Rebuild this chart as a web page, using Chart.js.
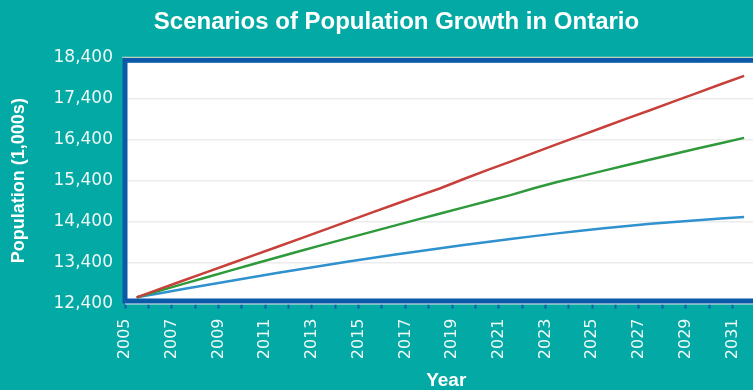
<!DOCTYPE html>
<html>
<head>
<meta charset="utf-8">
<title>Scenarios of Population Growth in Ontario</title>
<script src="https://cdn.jsdelivr.net/npm/chart.js@4.4.1/dist/chart.umd.min.js"></script>
<style>
    html, body { margin: 0; padding: 0; background: #03a9a4; overflow: hidden; }
    #wrap { width: 753px; height: 390px; overflow: hidden; }
    canvas { display: block; }
</style>
</head>
<body>
<div id="wrap"><canvas id="pop-chart" width="785" height="394"></canvas></div>
<script>
// mid-year points, 2005 to 2031
var midYears = [2005.5, 2006.5, 2007.5, 2008.5, 2009.5, 2010.5, 2011.5, 2012.5, 2013.5, 2014.5,
    2015.5, 2016.5, 2017.5, 2018.5, 2019.5, 2020.5, 2021.5, 2022.5, 2023.5, 2024.5,
    2025.5, 2026.5, 2027.5, 2028.5, 2029.5, 2030.5, 2031.5];

// population, thousands
var highGrowth = [12550, 12755, 12960, 13165, 13370, 13575, 13780, 13985, 14190, 14400,
    14605, 14810, 15015, 15215, 15440, 15655, 15865, 16080, 16290, 16500,
    16710, 16920, 17125, 17335, 17545, 17755, 17960];
var refGrowth = [12550, 12715, 12880, 13042, 13203, 13363, 13522, 13680, 13837, 13990,
    14143, 14295, 14447, 14598, 14748, 14898, 15047, 15215, 15365, 15505,
    15645, 15780, 15915, 16050, 16185, 16315, 16445];
var lowGrowth = [12550, 12652, 12752, 12852, 12950, 13047, 13143, 13237, 13330, 13418,
    13504, 13590, 13672, 13750, 13828, 13903, 13975, 14045, 14112, 14178,
    14240, 14295, 14345, 14390, 14432, 14475, 14515];

var yTicksMin = 12400;
var yTicksMax = 18400;
var yStep = 1000;

var BLUE = '#0b5aa8';
var TEXT = '#eef8f6';

function toPoints(vals) {
    var pts = [];
    for (var i = 0; i < vals.length; i++) {
        pts.push({ x: midYears[i], y: vals[i] });
    }
    return pts;
}

var framePlugin = {
    id: 'frame',
    beforeDraw: function (chart) {
        var a = chart.chartArea, ctx = chart.ctx;
        ctx.save();
        ctx.fillStyle = '#ffffff';
        ctx.fillRect(a.left, a.top, a.right - a.left, a.bottom - a.top);
        ctx.restore();
    },
    afterDatasetsDraw: function (chart) {
        var a = chart.chartArea, ctx = chart.ctx;
        ctx.save();
        ctx.strokeStyle = '#f2ebbd';
        ctx.lineWidth = 1;
        ctx.beginPath();
        ctx.moveTo(a.left - 3, a.top - 0.5);
        ctx.lineTo(a.right + 3, a.top - 0.5);
        ctx.stroke();
        ctx.strokeStyle = BLUE;
        ctx.lineWidth = 5;
        ctx.strokeRect(a.left, a.top + 2.5, a.right - a.left, a.bottom - a.top - 5);
        ctx.restore();
    }
};

function makeLine(label, vals, color) {
    return {
        label: label,
        data: toPoints(vals),
        borderColor: color,
        backgroundColor: color,
        borderWidth: 2.5,
        pointRadius: 0,
        tension: 0,
        fill: false
    };
}

var ctx = document.getElementById('pop-chart');
var PopChart = new Chart(ctx, {
    type: 'line',
    data: {
        datasets: [
            makeLine('High', highGrowth, '#c8403a'),
            makeLine('Reference', refGrowth, '#2e9a3c'),
            makeLine('Low', lowGrowth, '#2f92cf')
        ]
    },
    plugins: [framePlugin],
    options: {
        responsive: false,
        animation: false,
        layout: { padding: { left: 8, right: 0, top: 4, bottom: 2 } },
        plugins: {
            legend: { display: false },
            tooltip: { enabled: false },
            title: {
                display: true,
                text: 'Scenarios of Population Growth in Ontario',
                color: '#ffffff',
                font: { family: "'Liberation Sans', Arial, sans-serif", size: 24, weight: 'bold' },
                padding: { top: 4, bottom: 21 }
            }
        },
        scales: {
            x: {
                type: 'linear',
                min: 2005,
                max: 2032.5,
                border: { display: false },
                grid: {
                    drawOnChartArea: false,
                    drawTicks: true,
                    tickLength: 5,
                    tickWidth: 2,
                    tickColor: BLUE
                },
                ticks: {
                    stepSize: 1,
                    autoSkip: false,
                    includeBounds: false,
                    minRotation: 90,
                    maxRotation: 90,
                    padding: 10,
                    color: TEXT,
                    font: { family: "'DejaVu Sans', sans-serif", size: 16 },
                    callback: function (v) {
                        return (v % 2 === 1) ? String(v) : '';
                    }
                },
                title: {
                    display: true,
                    text: 'Year',
                    color: '#ffffff',
                    font: { family: "'Liberation Sans', Arial, sans-serif", size: 19, weight: 'bold' },
                    padding: { top: 0, bottom: 0 }
                }
            },
            y: {
                min: yTicksMin,
                max: yTicksMax,
                border: { display: false },
                grid: {
                    color: '#ececec',
                    lineWidth: 1.5,
                    drawTicks: false
                },
                ticks: {
                    stepSize: yStep,
                    padding: 12,
                    color: TEXT,
                    font: { family: "'DejaVu Sans', sans-serif", size: 17 }
                },
                title: {
                    display: true,
                    text: 'Population (1,000s)',
                    color: '#ffffff',
                    font: { family: "'Liberation Sans', Arial, sans-serif", size: 18, weight: 'bold' },
                    padding: { top: 0, bottom: 14 }
                },
                afterFit: function (scale) {
                    scale.width = 117;
                }
            }
        }
    }
});
</script>
</body>
</html>
